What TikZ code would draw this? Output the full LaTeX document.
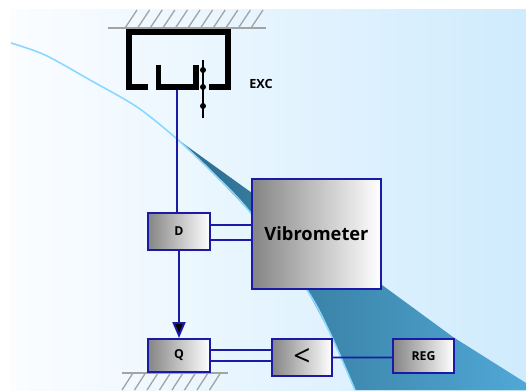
\documentclass[tikz,border=0pt]{standalone}
\usepackage{fontspec}
\setmainfont{Open Sans}
\usetikzlibrary{arrows.meta}
\definecolor{lnkblue}{HTML}{1A1AA6}
\definecolor{wallgray}{HTML}{A3A3A3}
\definecolor{skyleft}{HTML}{FBFDFF}
\definecolor{skyright}{HTML}{CFEBFD}
\definecolor{curveblue}{HTML}{8AD8FF}
\definecolor{wedgeleft}{HTML}{2E6C8C}
\definecolor{wedgemid}{HTML}{387A9E}
\definecolor{wedgeright}{HTML}{50A8D6}

\begin{document}
\begin{tikzpicture}[
    every node/.style={font=\bfseries\fontsize{7}{8}\selectfont},
    bx/.style={rectangle, draw=lnkblue, line width=1.1pt, left color=black!48,
               right color=white, inner sep=0pt},
    lnk/.style={draw=lnkblue, line width=1.1pt},
    e/.style={lnk, -{Triangle[length=3.2mm, width=2.6mm, fill=black]}},
    wall/.style={wallgray, line width=1pt},
    hatch/.style={wallgray, line width=0.75pt},
    frame/.style={black, line width=2.9pt, line join=miter},
  ]
  \useasboundingbox (0,0) rectangle (10.52,7.80);
  \shade[left color=skyleft, right color=skyright] (0.20,0) rectangle (10.52,7.60);
  \shade[left color=wedgeleft, middle color=wedgemid, right color=wedgeright]
    (3.54,5.02) -- (5.04,3.94) -- (7.64,2.10) -- (9.06,1.06) -- (10.52,0.14) -- (10.52,0)
    -- (7.10,0) -- (6.60,1.14) -- (6.14,2.00) -- (5.00,3.56) -- (4.26,4.34) -- cycle;
  \draw[curveblue, line width=0.9pt] plot[smooth] coordinates {(0.22,6.94) (0.90,6.70)
    (1.80,6.20) (2.74,5.66) (3.54,5.02) (4.26,4.34) (5.00,3.56) (6.14,2.00) (6.60,1.14) (7.10,0)};

  % walls
  \foreach \i in {0,...,10}
    \draw[hatch] (2.50+0.252*\i,7.24) -- (2.74+0.252*\i,7.60);
  \draw[wall] (2.16,7.24) -- (5.32,7.24);
  \foreach \i in {0,...,7}
    \draw[hatch] (2.66+0.25*\i,0.34) -- (2.44+0.25*\i,0);
  \draw[wall] (2.44,0.34) -- (4.56,0.34);

  % exciter
  \draw[frame] (2.96,6.06) -- (2.58,6.06) -- (2.58,7.16) -- (4.56,7.16) -- (4.56,6.06) -- (4.18,6.06);
  \draw[frame] (3.17,6.50) -- (3.17,6.06) -- (3.92,6.06) -- (3.92,6.50);
  \coordinate (rodtop) at (4.06,6.60);
  \coordinate (rodbot) at (4.06,5.44);
  \draw[black, line width=1.4pt] (rodtop) -- (rodbot);
  \foreach \y in {6.40,6.06,5.68}
    \fill[black] (4.06,\y) circle (0.06);
  \node[font=\bfseries\fontsize{7.2}{8}\selectfont] (exc) at (5.22,6.12) {EXC};
  \coordinate (cup) at (3.54,6.00);

  \node[bx, minimum width=12.4mm, minimum height=7.4mm] (d) at (3.58,3.17) {D};
  \node[bx, minimum width=25.8mm, minimum height=22mm, font=\bfseries\fontsize{10.4}{12}\selectfont] (vib) at (6.33,3.12) {Vibrometer};
  \node[bx, minimum width=12.4mm, minimum height=6.6mm] (q) at (3.58,0.69) {Q};
  \node[bx, minimum width=12mm, minimum height=7.4mm, font=\fontsize{17}{18}\selectfont] (cmp) at (6.04,0.65) {<};
  \node[bx, minimum width=12.2mm, minimum height=6.8mm] (reg) at (8.47,0.68) {REG};

  \draw[lnk] (cup) -- (cup |- d.north);
  \draw[e] (d.south) -- (q.north);
  \draw[lnk] ([yshift=1.3mm]d.east) -- ([yshift=1.8mm]vib.west);
  \draw[lnk] ([yshift=-1.7mm]d.east) -- ([yshift=-1.2mm]vib.west);
  \draw[lnk] ([yshift=1.1mm]q.east) -- ([yshift=1.5mm]cmp.west);
  \draw[lnk] ([yshift=-1.1mm]q.east) -- ([yshift=-0.7mm]cmp.west);
  \draw[lnk] (cmp.east) -- ([yshift=-0.3mm]reg.west);
\end{tikzpicture}
\end{document}
